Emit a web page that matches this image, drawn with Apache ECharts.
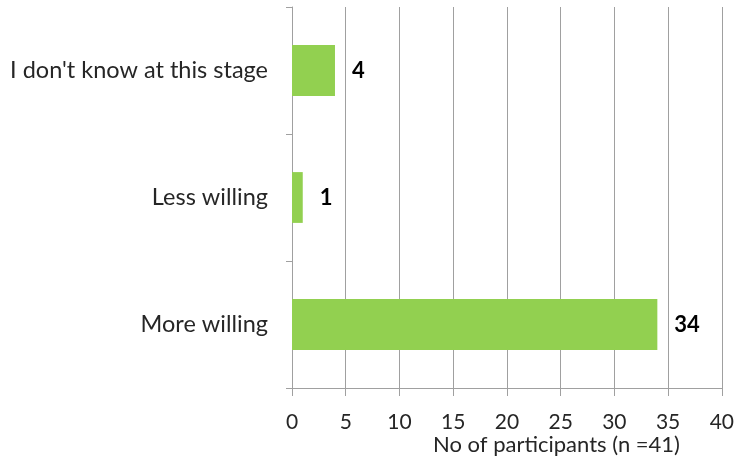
<!DOCTYPE html>
<html>
<head>
<meta charset="utf-8">
<script src="https://cdn.jsdelivr.net/npm/echarts@6/dist/echarts.min.js"></script>
<style>
  html, body { margin: 0; padding: 0; background: #ffffff; }
  #chart { width: 737px; height: 459px; }
</style>
</head>
<body>
<div id="chart"></div>
<script>
// Responses, listed bottom to top on the category axis
const categories = ['More willing', 'Less willing', "I don't know at this stage"];
const participants = [34, 1, 4];
const axisTitle = 'No of participants (n =41)';

const chart = echarts.init(document.getElementById('chart'), null, { renderer: 'canvas' });
const font = 'Lato, "Open Sans", sans-serif';

chart.setOption({
  animation: false,
  title: {
    text: axisTitle,
    left: 433,
    top: 434,
    padding: 0,
    textStyle: { fontFamily: font, fontSize: 22, fontWeight: 'normal', color: '#262626' }
  },
  grid: { left: 292, right: 15, top: 7, bottom: 71, containLabel: false },
  xAxis: {
    type: 'value',
    min: 0,
    max: 40,
    interval: 5,
    axisLine: { show: true, lineStyle: { color: '#a0a0a0', width: 1 } },
    axisTick: { show: true, length: 8, lineStyle: { color: '#a0a0a0' } },
    splitLine: { show: true, lineStyle: { color: '#a0a0a0', width: 1 } },
    axisLabel: { fontFamily: font, fontSize: 21, color: '#262626', margin: 24 }
  },
  yAxis: {
    type: 'category',
    data: categories,
    axisLine: { show: true, lineStyle: { color: '#a0a0a0', width: 1 } },
    axisTick: { show: true, length: 6, lineStyle: { color: '#a0a0a0' } },
    axisLabel: { fontFamily: font, fontSize: 23.5, color: '#262626', margin: 24 }
  },
  series: [{
    type: 'bar',
    data: participants,
    barWidth: '40%',
    itemStyle: { color: '#92d050' },
    label: {
      show: true,
      position: 'right',
      distance: 17,
      fontFamily: font,
      fontSize: 22,
      fontWeight: 'bold',
      color: '#000000'
    }
  }]
});
</script>
</body>
</html>
